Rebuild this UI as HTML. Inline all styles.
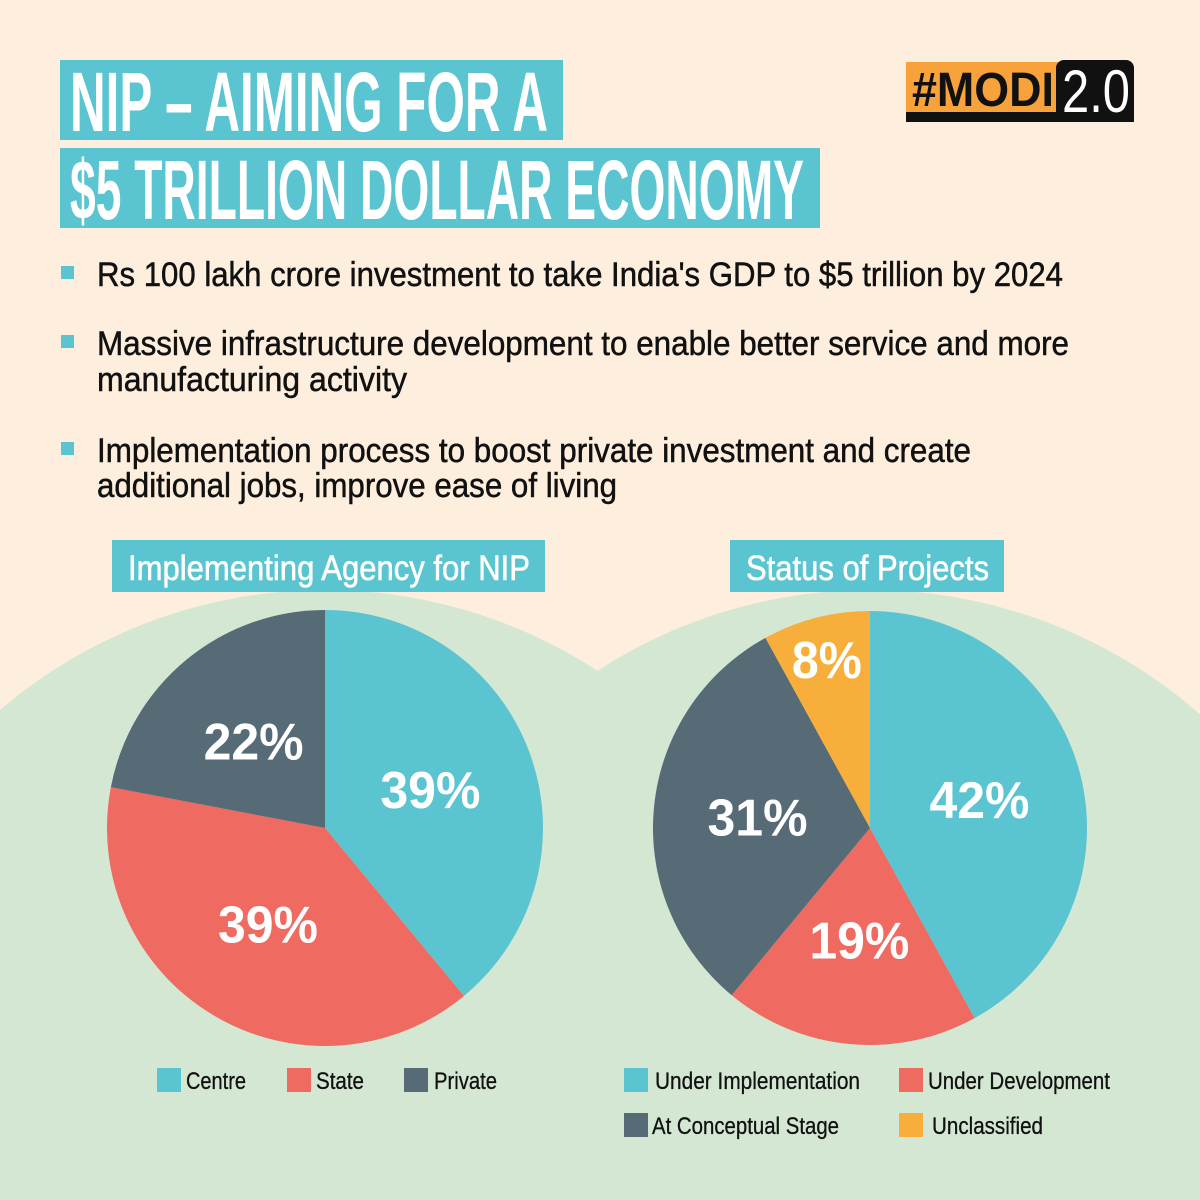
<!DOCTYPE html>
<html><head><meta charset="utf-8"><style>
html,body{margin:0;padding:0;background:#fdeedd;width:1200px;height:1200px;overflow:hidden;}
svg{display:block;font-family:"Liberation Sans",sans-serif;}
</style></head><body>
<svg id="root" width="1200" height="1200" viewBox="0 0 1200 1200">
<rect width="1200" height="1200" fill="#fdeedd"/>
<g fill="#d4e7d3">
<circle cx="325" cy="1090" r="500"/><circle cx="870" cy="1090" r="500"/><rect x="0" y="1090" width="1200" height="110"/>
</g>
<g>
<rect x="60" y="60" width="503" height="80" fill="#5bc4d1"/>
<text x="70" y="131" font-size="84" font-weight="bold" fill="#fff" textLength="478" lengthAdjust="spacingAndGlyphs">NIP – AIMING FOR A</text>
<rect x="60" y="148" width="760" height="80" fill="#5bc4d1"/>
<text x="70" y="219" font-size="84" font-weight="bold" fill="#fff" textLength="734" lengthAdjust="spacingAndGlyphs">$5 TRILLION DOLLAR ECONOMY</text>
</g>
<g>
<rect x="906" y="62" width="154" height="50" fill="#f7a23b"/>
<rect x="1056" y="60" width="78" height="62" rx="8" fill="#111"/>
<rect x="906" y="112" width="228" height="10" fill="#111"/>
<text x="912" y="106" font-size="48" font-weight="bold" fill="#111" textLength="142" lengthAdjust="spacingAndGlyphs">#MODI</text>
<text x="1062" y="112" font-size="60" fill="#fff" textLength="68" lengthAdjust="spacingAndGlyphs">2.0</text>
</g>
<g font-size="34" fill="#111" stroke="#111" stroke-width="0.5">
<rect x="61" y="266" width="13" height="13" fill="#5bc4d1" stroke="none"/>
<text x="97" y="286" textLength="966" lengthAdjust="spacingAndGlyphs">Rs 100 lakh crore investment to take India's GDP to $5 trillion by 2024</text>
<rect x="61" y="335" width="13" height="13" fill="#5bc4d1" stroke="none"/>
<text x="97" y="355" textLength="972" lengthAdjust="spacingAndGlyphs">Massive infrastructure development to enable better service and more</text>
<text x="97" y="391" textLength="310" lengthAdjust="spacingAndGlyphs">manufacturing activity</text>
<rect x="61" y="442" width="13" height="13" fill="#5bc4d1" stroke="none"/>
<text x="97" y="462" textLength="874" lengthAdjust="spacingAndGlyphs">Implementation process to boost private investment and create</text>
<text x="97" y="497" textLength="520" lengthAdjust="spacingAndGlyphs">additional jobs, improve ease of living</text>
</g>
<g>
<rect x="112" y="540" width="433" height="52" fill="#5bc4d1"/>
<text x="128" y="580" font-size="35" fill="#fff" stroke="#fff" stroke-width="0.6" textLength="402" lengthAdjust="spacingAndGlyphs">Implementing Agency for NIP</text>
</g>
<g>
<rect x="730" y="540" width="274" height="52" fill="#5bc4d1"/>
<text x="746" y="580" font-size="35" fill="#fff" stroke="#fff" stroke-width="0.6" textLength="243" lengthAdjust="spacingAndGlyphs">Status of Projects</text>
</g>
<g id="pie1"></g>
<g id="pie2"></g>
<g font-size="24" fill="#111" stroke="#111" stroke-width="0.3">
<rect x="157" y="1068" width="24" height="24" fill="#5bc4d1" stroke="none"/><text x="186" y="1089" textLength="60" lengthAdjust="spacingAndGlyphs">Centre</text>
<rect x="287" y="1068" width="24" height="24" fill="#ef6a60" stroke="none"/><text x="316" y="1089" textLength="48" lengthAdjust="spacingAndGlyphs">State</text>
<rect x="404" y="1068" width="24" height="24" fill="#566b76" stroke="none"/><text x="434" y="1089" textLength="63" lengthAdjust="spacingAndGlyphs">Private</text>
</g>
<g font-size="24" fill="#111" stroke="#111" stroke-width="0.3">
<rect x="624" y="1068" width="24" height="24" fill="#5bc4d1" stroke="none"/><text x="655" y="1089" textLength="205" lengthAdjust="spacingAndGlyphs">Under Implementation</text>
<rect x="899" y="1068" width="24" height="24" fill="#ef6a60" stroke="none"/><text x="928" y="1089" textLength="182" lengthAdjust="spacingAndGlyphs">Under Development</text>
<rect x="624" y="1113" width="24" height="24" fill="#566b76" stroke="none"/><text x="652" y="1134" textLength="187" lengthAdjust="spacingAndGlyphs">At Conceptual Stage</text>
<rect x="899" y="1113" width="24" height="24" fill="#f7ae3b" stroke="none"/><text x="932" y="1134" textLength="111" lengthAdjust="spacingAndGlyphs">Unclassified</text>
</g>
</svg>
<script>
const agencyCategories = ["Centre", "State", "Private"];
const agencyValues = [39, 39, 22];
const agencyLabels = ["39%", "39%", "22%"];
const statusCategories = ["Under Implementation", "Under Development", "At Conceptual Stage", "Unclassified"];
const statusValues = [42, 19, 31, 8];
const statusLabels = ["42%", "19%", "31%", "8%"];
const agencyColors = ["#5bc4d1", "#ef6a60", "#566b76"];
const statusColors = ["#5bc4d1", "#ef6a60", "#566b76", "#f7ae3b"];
const NS = "http://www.w3.org/2000/svg";
function drawPie(gid, cats, vals, labels, colors, cx, cy, r, lr) {
  const g = document.getElementById(gid);
  const total = vals.reduce((a, b) => a + b, 0);
  let a0 = 0;
  vals.forEach((v, i) => {
    const a1 = a0 + v / total * Math.PI * 2;
    const p = (a) => [cx + r * Math.sin(a), cy - r * Math.cos(a)];
    const s = p(a0), e = p(a1);
    const large = (a1 - a0) > Math.PI ? 1 : 0;
    const path = document.createElementNS(NS, "path");
    path.setAttribute("d", `M${cx},${cy} L${s[0]},${s[1]} A${r},${r} 0 ${large} 1 ${e[0]},${e[1]} Z`);
    path.setAttribute("fill", colors[i]);
    
    
    g.appendChild(path);
    const am = (a0 + a1) / 2;
    const rr = (v / total) < 0.12 ? r * 0.8 : lr;
    const t = document.createElementNS(NS, "text");
    t.setAttribute("x", cx + rr * Math.sin(am));
    t.setAttribute("y", cy - rr * Math.cos(am) + 18);
    t.setAttribute("text-anchor", "middle");
    t.setAttribute("font-size", "52");
    t.setAttribute("font-weight", "bold");
    t.setAttribute("fill", "#fff");
    t.setAttribute("textLength", labels[i].length > 2 ? "100" : "70");
    t.setAttribute("lengthAdjust", "spacingAndGlyphs");
    t.textContent = labels[i];
    
    
    g.appendChild(t);
    a0 = a1;
  });
}
drawPie("pie1", agencyCategories, agencyValues, agencyLabels, agencyColors, 325, 828, 218, 112);
drawPie("pie2", statusCategories, statusValues, statusLabels, statusColors, 870, 828, 217, 113);
</script>
</body></html>
